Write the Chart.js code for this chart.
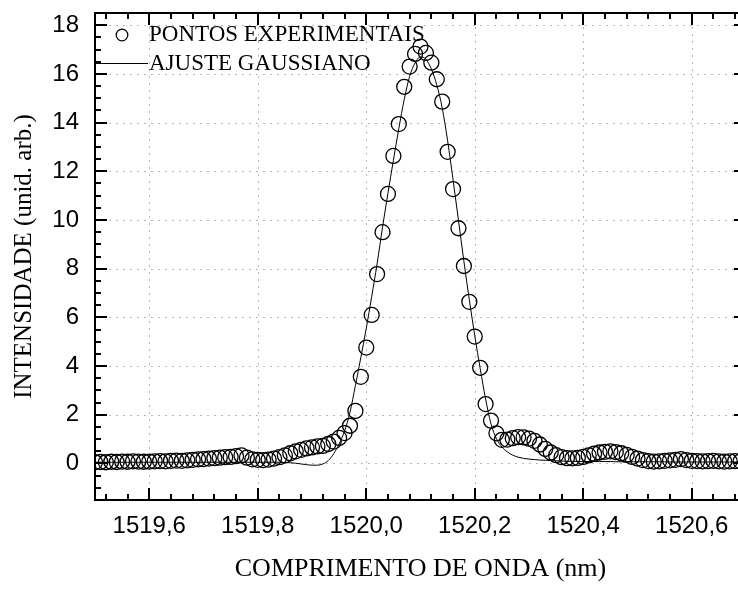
<!DOCTYPE html>
<html>
<head>
<meta charset="utf-8">
<script src="https://cdn.jsdelivr.net/npm/chart.js@4/dist/chart.umd.min.js"></script>
<style>
  html, body { margin: 0; padding: 0; background: #fff; overflow: hidden; }
  #wrap { width: 738px; height: 589px; overflow: hidden; position: relative; }
  canvas { display: block; }
</style>
</head>
<body>
<div id="wrap"><canvas id="spectrum" width="760" height="589"></canvas></div>
<script>
// Wavelength samples (nm)
const wavelengthNm = [
  1519.50, 1519.51, 1519.52, 1519.53, 1519.54, 1519.55, 1519.56, 1519.57, 1519.58, 1519.59,
  1519.60, 1519.61, 1519.62, 1519.63, 1519.64, 1519.65, 1519.66, 1519.67, 1519.68, 1519.69,
  1519.70, 1519.71, 1519.72, 1519.73, 1519.74, 1519.75, 1519.76, 1519.77, 1519.78, 1519.79,
  1519.80, 1519.81, 1519.82, 1519.83, 1519.84, 1519.85, 1519.86, 1519.87, 1519.88, 1519.89,
  1519.90, 1519.91, 1519.92, 1519.93, 1519.94, 1519.95, 1519.96, 1519.97, 1519.98, 1519.99,
  1520.00, 1520.01, 1520.02, 1520.03, 1520.04, 1520.05, 1520.06, 1520.07, 1520.08, 1520.09,
  1520.10, 1520.11, 1520.12, 1520.13, 1520.14, 1520.15, 1520.16, 1520.17, 1520.18, 1520.19,
  1520.20, 1520.21, 1520.22, 1520.23, 1520.24, 1520.25, 1520.26, 1520.27, 1520.28, 1520.29,
  1520.30, 1520.31, 1520.32, 1520.33, 1520.34, 1520.35, 1520.36, 1520.37, 1520.38, 1520.39,
  1520.40, 1520.41, 1520.42, 1520.43, 1520.44, 1520.45, 1520.46, 1520.47, 1520.48, 1520.49,
  1520.50, 1520.51, 1520.52, 1520.53, 1520.54, 1520.55, 1520.56, 1520.57, 1520.58, 1520.59,
  1520.60, 1520.61, 1520.62, 1520.63, 1520.64, 1520.65, 1520.66, 1520.67, 1520.68, 1520.69,
  1520.70
];

// Measured intensity (arb. units)
const measuredIntensity = [
  0.05, 0.06, 0.05, 0.07, 0.06, 0.08, 0.07, 0.09, 0.08, 0.07,
  0.08, 0.09, 0.10, 0.09, 0.11, 0.12, 0.11, 0.13, 0.15, 0.17,
  0.18, 0.20, 0.22, 0.24, 0.26, 0.27, 0.30, 0.33, 0.24, 0.17,
  0.15, 0.14, 0.16, 0.20, 0.26, 0.33, 0.42, 0.50, 0.56, 0.62,
  0.66, 0.70, 0.72, 0.80, 0.90, 1.05, 1.25, 1.55, 2.16, 3.56,
  4.76, 6.10, 7.78, 9.50, 11.07, 12.63, 13.94, 15.47, 16.30, 16.82,
  17.12, 16.86, 16.46, 15.78, 14.86, 12.80, 11.27, 9.66, 8.11, 6.64,
  5.21, 3.93, 2.44, 1.76, 1.24, 0.97, 0.98, 1.04, 1.08, 1.07,
  1.02, 0.93, 0.78, 0.60, 0.45, 0.34, 0.26, 0.22, 0.21, 0.23,
  0.27, 0.33, 0.40, 0.45, 0.48, 0.50, 0.47, 0.42, 0.35, 0.27,
  0.20, 0.14, 0.10, 0.08, 0.09, 0.11, 0.13, 0.15, 0.18, 0.14,
  0.11, 0.10, 0.09, 0.10, 0.11, 0.09, 0.08, 0.09, 0.10, 0.09,
  0.08
];

// Gaussian fit curve evaluated on the same wavelengths
const fitIntensity = [
  0.05, 0.05, 0.05, 0.05, 0.05, 0.05, 0.05, 0.05, 0.05, 0.05,
  0.05, 0.05, 0.05, 0.05, 0.05, 0.05, 0.05, 0.05, 0.05, 0.05,
  0.05, 0.05, 0.05, 0.05, 0.05, 0.05, 0.05, 0.05, 0.05, 0.05,
  0.05, 0.05, 0.05, 0.05, 0.05, 0.04, 0.03, 0.01, -0.02, -0.05,
  -0.07, -0.07, -0.02, 0.12, 0.40, 0.80, 1.33, 2.10, 3.20, 4.35,
  5.55, 6.85, 8.20, 9.70, 11.10, 12.45, 13.75, 14.95, 15.90, 16.45,
  16.70, 16.60, 16.20, 15.55, 14.60, 13.25, 11.65, 9.98, 8.30, 6.72,
  5.25, 3.90, 2.65, 1.62, 1.02, 0.68, 0.48, 0.34, 0.26, 0.21,
  0.18, 0.16, 0.14, 0.13, 0.12, 0.11, 0.10, 0.09, 0.09, 0.08,
  0.08, 0.08, 0.08, 0.08, 0.08, 0.08, 0.07, 0.07, 0.07, 0.07,
  0.07, 0.07, 0.07, 0.07, 0.07, 0.07, 0.06, 0.06, 0.06, 0.06,
  0.06, 0.06, 0.06, 0.06, 0.06, 0.06, 0.06, 0.06, 0.06, 0.06,
  0.06
];

// Axis ticks
const xTickValues = [1519.6, 1519.8, 1520.0, 1520.2, 1520.4, 1520.6];
const xTickLabels = ['1519,6', '1519,8', '1520,0', '1520,2', '1520,4', '1520,6'];
const yTickValues = [0, 2, 4, 6, 8, 10, 12, 14, 16, 18];
const yTickLabels = ['0', '2', '4', '6', '8', '10', '12', '14', '16', '18'];

const X_MINOR_STEP = 0.04, X_MINOR_PER_MAJOR = 5;
const Y_MINOR_STEP = 0.5, Y_MINOR_PER_MAJOR = 4;
const MAJOR_LEN = 12, MINOR_LEN = 6;

// Dotted grid, inward ticks on all four sides, box frame and inset legend
const axisDecor = {
  id: 'axisDecor',
  beforeDatasetsDraw(chart) {
    const { ctx, chartArea: a, scales: { x, y } } = chart;
    ctx.save();
    ctx.beginPath();
    ctx.rect(a.left, a.top, a.right - a.left, a.bottom - a.top);
    ctx.clip();
    ctx.strokeStyle = '#b9b9b9';
    ctx.lineWidth = 1;
    ctx.setLineDash([2, 5]);
    ctx.beginPath();
    xTickValues.forEach(v => {
      const px = Math.round(x.getPixelForValue(v)) + 0.5;
      ctx.moveTo(px, a.top); ctx.lineTo(px, a.bottom);
    });
    yTickValues.forEach(v => {
      const py = Math.round(y.getPixelForValue(v)) + 0.5;
      ctx.moveTo(a.left, py); ctx.lineTo(a.right, py);
    });
    ctx.stroke();
    ctx.restore();
  },
  afterDatasetsDraw(chart) {
    const { ctx, chartArea: a, scales: { x, y } } = chart;
    ctx.save();
    ctx.strokeStyle = '#000';
    ctx.lineWidth = 2;
    ctx.setLineDash([]);
    ctx.beginPath();
    const kx0 = Math.ceil(x.min / X_MINOR_STEP - 1e-6), kx1 = Math.floor(x.max / X_MINOR_STEP + 1e-6);
    for (let k = kx0; k <= kx1; k++) {
      const v = k * X_MINOR_STEP;
      if (Math.abs(v - x.min) < 1e-6 || Math.abs(v - x.max) < 1e-6) continue;
      const len = (k % X_MINOR_PER_MAJOR === 0) ? MAJOR_LEN : MINOR_LEN;
      const px = Math.round(x.getPixelForValue(v));
      ctx.moveTo(px, a.bottom); ctx.lineTo(px, a.bottom - len);
      ctx.moveTo(px, a.top); ctx.lineTo(px, a.top + len);
    }
    const ky0 = Math.ceil(y.min / Y_MINOR_STEP - 1e-6), ky1 = Math.floor(y.max / Y_MINOR_STEP + 1e-6);
    for (let k = ky0; k <= ky1; k++) {
      const v = k * Y_MINOR_STEP;
      if (Math.abs(v - y.min) < 1e-6 || Math.abs(v - y.max) < 1e-6) continue;
      const len = (k % Y_MINOR_PER_MAJOR === 0) ? MAJOR_LEN : MINOR_LEN;
      const py = Math.round(y.getPixelForValue(v));
      ctx.moveTo(a.left, py); ctx.lineTo(a.left + len, py);
      ctx.moveTo(a.right, py); ctx.lineTo(a.right - len, py);
    }
    ctx.stroke();
    ctx.strokeRect(a.left, a.top, a.right - a.left, a.bottom - a.top);

    // legend
    const ds = chart.data.datasets;
    ctx.fillStyle = '#000';
    ctx.font = '23px "Liberation Serif"';
    ctx.textAlign = 'left';
    ctx.textBaseline = 'middle';
    ctx.lineWidth = 1.3;
    ctx.beginPath();
    ctx.arc(a.left + 27, a.top + 22, 5.8, 0, Math.PI * 2);
    ctx.stroke();
    ctx.fillText(ds[0].label, a.left + 54, a.top + 22);
    ctx.lineWidth = 1;
    ctx.beginPath();
    ctx.moveTo(a.left + 1, a.top + 50.5);
    ctx.lineTo(a.left + 53, a.top + 50.5);
    ctx.stroke();
    ctx.fillText(ds[1].label, a.left + 54, a.top + 51);
    ctx.restore();
  }
};

const measuredPoints = wavelengthNm.map((w, i) => ({ x: w, y: measuredIntensity[i] }));
const fitPoints = wavelengthNm.map((w, i) => ({ x: w, y: fitIntensity[i] }));

const tickFont = { family: '"Liberation Sans", Arial, sans-serif', size: 24 };
const xTitleFont = { family: '"Liberation Serif", "Times New Roman", serif', size: 26 };
const yTitleFont = { family: '"Liberation Serif", "Times New Roman", serif', size: 25 };

new Chart(document.getElementById('spectrum'), {
  type: 'scatter',
  data: {
    datasets: [
      {
        label: 'PONTOS EXPERIMENTAIS',
        data: measuredPoints,
        showLine: false,
        pointStyle: 'circle',
        pointRadius: 7.5,
        pointBorderWidth: 1.3,
        pointBorderColor: '#000',
        pointBackgroundColor: 'rgba(0,0,0,0)',
        clip: 0
      },
      {
        label: 'AJUSTE GAUSSIANO',
        data: fitPoints,
        showLine: true,
        borderColor: '#000',
        borderWidth: 1,
        pointRadius: 0,
        cubicInterpolationMode: 'monotone',
        clip: 0
      }
    ]
  },
  options: {
    responsive: false,
    devicePixelRatio: 1,
    animation: false,
    layout: { padding: { top: 13, right: 14, bottom: 0, left: 0 } },
    plugins: { legend: { display: false }, tooltip: { enabled: false } },
    scales: {
      x: {
        type: 'linear',
        position: 'bottom',
        min: 1519.5,
        max: 1520.7,
        afterBuildTicks: s => { s.ticks = xTickValues.map(v => ({ value: v })); },
        afterFit: s => { s.height = 89; s.paddingLeft = 0; s.paddingRight = 0; },
        grid: { display: false, drawTicks: false },
        border: { display: false },
        ticks: {
          font: tickFont,
          color: '#000',
          padding: 12,
          maxRotation: 0,
          autoSkip: false,
          callback: (v, i) => xTickLabels[i]
        },
        title: {
          display: true,
          text: 'COMPRIMENTO DE ONDA (nm)',
          font: xTitleFont,
          color: '#000',
          padding: { top: 0, bottom: 4 }
        }
      },
      y: {
        type: 'linear',
        position: 'left',
        min: -1.5,
        max: 18.5,
        afterBuildTicks: s => { s.ticks = yTickValues.map(v => ({ value: v })); },
        afterFit: s => { s.width = 95; s.paddingTop = 0; s.paddingBottom = 0; },
        grid: { display: false, drawTicks: false },
        border: { display: false },
        ticks: {
          font: tickFont,
          color: '#000',
          padding: 16,
          autoSkip: false,
          callback: (v, i) => yTickLabels[i]
        },
        title: {
          display: true,
          text: 'INTENSIDADE (unid. arb.)',
          font: yTitleFont,
          color: '#000',
          padding: { top: 9, bottom: 0 }
        }
      }
    }
  },
  plugins: [axisDecor]
});
</script>
</body>
</html>
